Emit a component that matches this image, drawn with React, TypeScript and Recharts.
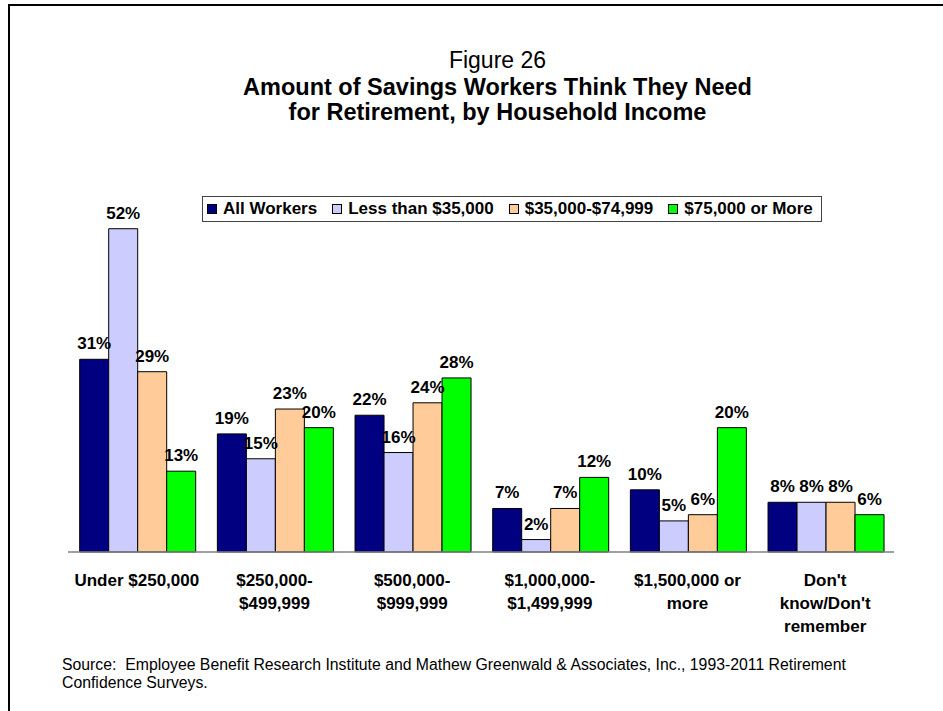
import { BarChart, Bar, XAxis, YAxis, LabelList } from 'recharts';

const categories = [
  ['Under $250,000'],
  ['$250,000-', '$499,999'],
  ['$500,000-', '$999,999'],
  ['$1,000,000-', '$1,499,999'],
  ['$1,500,000 or', 'more'],
  ["Don't", "know/Don't", 'remember'],
];

const allWorkers = [31, 19, 22, 7, 10, 8];
const under35k = [52, 15, 16, 2, 5, 8];
const mid35to75k = [29, 23, 24, 7, 6, 8];
const over75k = [13, 20, 28, 12, 20, 6];

const seriesNames = ['All Workers', 'Less than $35,000', '$35,000-$74,999', '$75,000 or More'];
const seriesColors = ['#000080', '#CCCCFF', '#FFCC99', '#00FF00'];
const seriesKeys = ['all', 'low', 'mid', 'high'];

const data = categories.map((c, i) => ({
  name: c.join(' '),
  all: allWorkers[i],
  low: under35k[i],
  mid: mid35to75k[i],
  high: over75k[i],
}));

const FONT = '"Liberation Sans", Arial, Helvetica, sans-serif';

const CategoryTick = (props: any) => {
  const { x, y, index } = props;
  const lines = categories[index] || [];
  return (
    <text x={x} y={y} textAnchor="middle" fontFamily={FONT} fontWeight="bold" fontSize={17} fill="#000">
      {lines.map((l, i) => (
        <tspan key={i} x={x} y={y + 26 + i * 23}>
          {l}
        </tspan>
      ))}
    </text>
  );
};

// legend drawn as a plain box so it does not eat into the plot area
const LegendBox = () => (
  <div
    style={{
      position: 'absolute',
      left: 202,
      top: 196,
      width: 620,
      height: 26,
      display: 'flex',
      alignItems: 'center',
      border: '1px solid #444',
      background: '#fff',
      paddingLeft: 4,
      boxSizing: 'border-box',
      fontFamily: FONT,
      fontWeight: 'bold',
      fontSize: 17,
      color: '#000',
      whiteSpace: 'nowrap',
    }}
  >
    {seriesNames.map((n, i) => (
      <span key={n} style={{ display: 'flex', alignItems: 'center', marginRight: i < 3 ? 15 : 0 }}>
        <span
          style={{
            width: 8,
            height: 8,
            background: seriesColors[i],
            border: '1px solid #000',
            marginRight: 6,
            display: 'inline-block',
          }}
        />
        {n}
      </span>
    ))}
  </div>
);

export default function App() {
  return (
    <div style={{ position: 'absolute', left: 0, top: 0, width: 943, height: 711, background: '#fff', overflow: 'hidden' }}>
      <div
        style={{
          position: 'absolute',
          left: 8,
          top: 4,
          width: 1000,
          height: 800,
          borderLeft: '2px solid #000',
          borderTop: '2px solid #000',
        }}
      />
      <div style={{ position: 'absolute', left: 0, width: 995, top: 48, textAlign: 'center', fontFamily: FONT, fontSize: 23, lineHeight: '24px', color: '#000' }}>
        <div>Figure 26</div>
        <div style={{ fontWeight: 'bold', fontSize: 23.5, marginTop: 3 }}>Amount of Savings Workers Think They Need</div>
        <div style={{ fontWeight: 'bold', fontSize: 23.5, marginTop: 1 }}>for Retirement, by Household Income</div>
      </div>
      <div style={{ position: 'absolute', left: 0, top: 0 }}>
        <BarChart
          width={943}
          height={711}
          data={data}
          margin={{ top: 179, right: 49, left: 68, bottom: 59 }}
          barCategoryGap="8.5%"
          barGap={0}
        >
          <XAxis
            dataKey="name"
            height={100}
            axisLine={{ stroke: '#808080', strokeWidth: 1.5 }}
            tickLine={false}
            tick={<CategoryTick />}
            interval={0}
          />
          <YAxis hide domain={[0, 60]} />
          {seriesKeys.map((k, i) => (
            <Bar key={k} dataKey={k} name={seriesNames[i]} fill={seriesColors[i]} stroke="#000" strokeWidth={1} isAnimationActive={false}>
              <LabelList
                dataKey={k}
                position="top"
                offset={10}
                formatter={(v: any) => `${v}%`}
                style={{ fontFamily: FONT, fontWeight: 'bold', fontSize: 17, fill: '#000' }}
              />
            </Bar>
          ))}
        </BarChart>
      </div>
      <LegendBox />
      <div style={{ position: 'absolute', left: 62, top: 656, fontFamily: FONT, fontSize: 15.8, lineHeight: '18px', color: '#000', width: 870, whiteSpace: 'nowrap' }}>
        Source:&nbsp; Employee Benefit Research Institute and Mathew Greenwald &amp; Associates, Inc., 1993-2011 Retirement
        <br />
        Confidence Surveys.
      </div>
    </div>
  );
}
